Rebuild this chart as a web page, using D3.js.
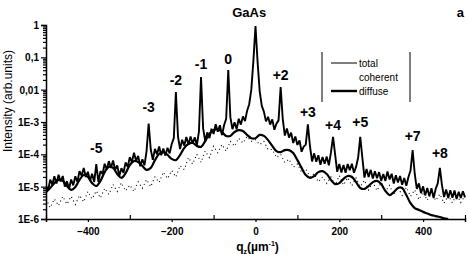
<!DOCTYPE html>
<html>
<head>
<meta charset="utf-8">
<script src="https://cdn.jsdelivr.net/npm/d3@7"></script>
<style>
  body { margin: 0; background: #fff; }
  svg { display: block; font-family: "Liberation Sans", Arial, sans-serif; }
</style>
</head>
<body>
<div id="chart"></div>
<script>
// q_z grid (µm^-1) for the total curve, step 5
const qTotal = [
  -500,-495,-490,-485,-480,-475,-470,-465,-460,-455,-450,-445,-440,-435,-430,-425,-420,-415,-410,-405,
  -400,-395,-390,-385,-380,-375,-370,-365,-360,-355,-350,-345,-340,-335,-330,-325,-320,-315,-310,-305,
  -300,-295,-290,-285,-280,-275,-270,-265,-260,-255,-250,-245,-240,-235,-230,-225,-220,-215,-210,-205,
  -200,-195,-190,-185,-180,-175,-170,-165,-160,-155,-150,-145,-140,-135,-130,-125,-120,-115,-110,-105,
  -100,-95,-90,-85,-80,-75,-70,-65,-60,-55,-50,-45,-40,-35,-30,-25,-20,-15,-10,-5,
  0,5,10,15,20,25,30,35,40,45,50,55,60,65,70,75,80,85,90,95,
  100,105,110,115,120,125,130,135,140,145,150,155,160,165,170,175,180,185,190,195,
  200,205,210,215,220,225,230,235,240,245,250,255,260,265,270,275,280,285,290,295,
  300,305,310,315,320,325,330,335,340,345,350,355,360,365,370,375,380,385,390,395,
  400,405,410,415,420,425,430,435,440,445,450,455,460,465,470,475,480,485,490,495,
  500
];
// log10 of total intensity
const totalLog = [
  -4.96,-5.12,-4.78,-4.94,-4.68,-4.9,-4.63,-4.84,-4.67,-5.0,
  -4.83,-5.07,-4.78,-4.96,-4.68,-4.85,-4.52,-4.66,-4.42,-4.7,
  -4.54,-4.82,-4.6,-4.86,-4.3,-4.85,-4.52,-4.61,-4.29,-4.47,
  -4.21,-4.42,-4.19,-4.48,-4.34,-4.67,-4.43,-4.57,-4.25,-4.39,
  -4.09,-4.24,-3.95,-4.2,-4.05,-4.37,-4.15,-4.34,-3.9,-3.05,
  -3.85,-4.17,-3.83,-4.0,-3.76,-4.03,-3.82,-4.04,-3.8,-3.97,
  -3.68,-3.5,-2.07,-3.45,-3.84,-3.55,-3.73,-3.46,-3.7,-3.45,
  -3.67,-3.47,-3.72,-3.3,-1.61,-3.2,-3.59,-3.32,-3.5,-3.21,
  -3.37,-3.07,-3.3,-3.1,-3.4,-3.1,-2.9,-1.39,-2.85,-3.22,
  -3.01,-3.22,-2.9,-3.08,-2.83,-2.97,-2.65,-2.45,-2.0,-1.1,
  -0.03,-1.15,-2.05,-2.5,-2.68,-2.98,-2.84,-3.08,-2.92,-3.24,
  -3.05,-2.95,-1.92,-2.9,-3.42,-3.2,-3.48,-3.33,-3.65,-3.45,
  -3.71,-3.57,-3.92,-3.76,-3.7,-3.07,-3.75,-4.22,-3.97,-4.23,
  -4.03,-4.32,-4.08,-4.29,-4.07,-4.34,-3.95,-3.46,-4.0,-4.54,
  -4.3,-4.56,-4.33,-4.57,-4.3,-4.49,-4.29,-4.57,-4.39,-4.1,
  -3.46,-4.1,-4.72,-4.45,-4.7,-4.48,-4.75,-4.52,-4.74,-4.55,
  -4.82,-4.61,-4.82,-4.53,-4.78,-4.6,-4.9,-4.65,-4.87,-4.67,
  -4.94,-4.73,-4.97,-4.7,-4.5,-3.87,-4.6,-5.07,-4.9,-5.2,
  -4.99,-5.27,-5.04,-5.3,-5.05,-5.35,-5.07,-4.9,-4.42,-4.95,
  -5.32,-5.09,-5.35,-5.11,-5.34,-5.12,-5.38,-5.16,-5.35,-5.14,
  -5.33
];

const qDiffuse = [
  -500,-490,-480,-470,-460,-450,-440,-430,-420,-410,-400,-390,-380,-370,-360,-350,-340,-330,-320,-310,
  -300,-290,-280,-270,-260,-250,-240,-230,-220,-210,-200,-190,-180,-170,-160,-150,-140,-130,-120,-110,
  -100,-90,-80,-70,-60,-50,-40,-30,-20,-10,0,10,20,30,40,50,60,70,80,90,
  100,110,120,130,140,150,160,170,180,190,200,210,220,230,240,250,260,270,280,290,
  300,310,320,330,340,350,360,370,380,390,400,410,420,430,440,450,460
];
const diffuseLog = [
  -5.17,-5.04,-4.89,-4.79,-4.82,-4.98,-5.10,-5.01,-4.79,-4.64,
  -4.70,-4.89,-4.98,-4.82,-4.55,-4.39,-4.42,-4.61,-4.73,-4.58,
  -4.33,-4.21,-4.24,-4.36,-4.48,-4.42,-4.18,-3.99,-3.93,-4.02,
  -4.14,-4.18,-4.02,-3.80,-3.68,-3.65,-3.74,-3.77,-3.59,-3.37,
  -3.25,-3.22,-3.31,-3.43,-3.43,-3.31,-3.25,-3.28,-3.40,-3.50,
  -3.50,-3.40,-3.43,-3.56,-3.74,-3.90,-3.93,-3.87,-3.87,-3.96,
  -4.18,-4.42,-4.64,-4.73,-4.67,-4.55,-4.52,-4.61,-4.79,-4.92,
  -4.89,-4.76,-4.67,-4.70,-4.86,-5.04,-5.07,-4.98,-4.86,-4.82,
  -4.92,-5.13,-5.26,-5.17,-5.04,-5.04,-5.26,-5.51,-5.66,-5.72,
  -5.78,-5.83,-5.88,-5.91,-5.94,-5.98,-6.0
];

const qCoherent = [
  -500,-490,-480,-470,-460,-450,-440,-430,-420,-410,-400,-390,-380,-370,-360,-350,-340,-330,-320,-310,
  -300,-290,-280,-270,-260,-250,-240,-230,-220,-210,-200,-190,-180,-170,-160,-150,-140,-130,-120,-110,
  -100,-90,-80,-70,-60,-50,-40,-30,-20,-10,0,10,20,30,40,50,60,70,80,90,
  100,110,120,130,140,150,160,170,180,190,200,210,220,230,240,250,260,270,280,290,
  300,310,320,330,340,350,360,370,380,390,400,410,420,430,440,450,460,470,480,490,500
];
const coherentLog = [
  -5.38,-5.65,-5.38,-5.59,-5.3,-5.54,-5.3,-5.55,-5.27,-5.47,
  -5.15,-5.38,-5.13,-5.35,-5.05,-5.24,-4.93,-5.15,-4.88,-5.13,
  -4.95,-5.15,-4.85,-5.05,-4.78,-5.0,-4.7,-4.87,-4.55,-4.75,
  -4.5,-4.7,-4.35,-4.47,-4.1,-4.3,-4.0,-4.25,-3.9,-4.1,
  -3.75,-3.95,-3.7,-3.9,-3.6,-3.75,-3.5,-3.65,-3.45,-3.6,
  -3.55,-3.7,-3.6,-3.85,-3.85,-4.1,-4.0,-4.25,-4.15,-4.4,
  -4.3,-4.55,-4.45,-4.7,-4.6,-4.85,-4.7,-4.9,-4.7,-4.95,
  -4.66,-4.95,-4.72,-4.97,-4.73,-5.0,-4.8,-5.1,-4.87,-5.12,
  -4.87,-5.15,-4.96,-5.25,-5.02,-5.27,-5.02,-5.3,-5.1,-5.4,
  -5.17,-5.42,-5.17,-5.43,-5.23,-5.51,-5.27,-5.5,-5.23,-5.49,
  -5.28
];

// satellite peak labels: order, q position, log10 height of the label
const peakNames = ["-5", "-3", "-2", "-1", "0", "+2", "+3", "+4", "+5", "+7", "+8"];
const peakQ = [-380, -255, -190, -130, -65, 60, 125, 185, 250, 375, 440];
const peakLabelLog = [-3.95, -2.7, -1.85, -1.35, -1.2, -1.7, -2.85, -3.25, -3.15, -3.6, -4.1];

const xTicks = [-400, -200, 0, 200, 400];
const xMinorTicks = [-500, -300, -100, 100, 300, 500];
const yTicks = [1, 0.1, 0.01, 1e-3, 1e-4, 1e-5, 1e-6];
const yTickLabels = ["1", "0,1", "0,01", "1E-3", "1E-4", "1E-5", "1E-6"];

const legendItems = ["total", "coherent", "diffuse"];

function drawChart(container) {
  const width = 468;
  const height = 254;
  const margin = { top: 25, right: 3, bottom: 35, left: 46 };

  const x = d3.scaleLinear()
    .domain([-500, 500])
    .range([margin.left, width - margin.right]);
  const y = d3.scaleLog()
    .domain([1e-6, 1])
    .range([height - margin.bottom, margin.top]);

  const svg = container.append("svg")
    .attr("width", width)
    .attr("height", height)
    .attr("viewBox", [0, 0, width, height]);

  svg.append("clipPath")
    .attr("id", "plot-clip")
    .append("rect")
    .attr("x", margin.left)
    .attr("y", 0)
    .attr("width", width - margin.left - margin.right + 1)
    .attr("height", height - margin.bottom);

  const series = (qs, logs) => qs.map((q, i) => ({ q, v: Math.pow(10, logs[i]) }));

  const line = d3.line()
    .x((d) => x(d.q))
    .y((d) => y(d.v));

  const plot = svg.append("g").attr("clip-path", "url(#plot-clip)");

  plot.append("path")
    .datum(series(qCoherent, coherentLog))
    .attr("fill", "none")
    .attr("stroke", "#000")
    .attr("stroke-width", 1.1)
    .attr("stroke-dasharray", "1,3")
    .attr("d", line);

  plot.append("path")
    .datum(series(qTotal, totalLog))
    .attr("fill", "none")
    .attr("stroke", "#000")
    .attr("stroke-width", 1.9)
    .attr("stroke-linejoin", "bevel")
    .attr("d", line);

  plot.append("path")
    .datum(series(qDiffuse, diffuseLog))
    .attr("fill", "none")
    .attr("stroke", "#000")
    .attr("stroke-width", 2.2)
    .attr("d", line.curve(d3.curveCatmullRom));

  // axes
  const yAxis = svg.append("g")
    .attr("transform", `translate(${margin.left},0)`)
    .call(d3.axisLeft(y)
      .tickValues(yTicks)
      .tickFormat((d, i) => yTickLabels[i])
      .tickSize(5)
      .tickPadding(2));
  svg.append("g")
    .attr("transform", `translate(${margin.left},0)`)
    .call(d3.axisLeft(y)
      .tickValues(y.ticks().filter((d) => !yTicks.includes(d)))
      .tickFormat("")
      .tickSize(3))
    .call((g) => g.select(".domain").remove());

  svg.append("g")
    .attr("transform", `translate(0,${height - margin.bottom})`)
    .call(d3.axisBottom(x)
      .tickValues(xTicks)
      .tickFormat(d3.format("d"))
      .tickSize(3)
      .tickPadding(6));
  svg.append("g")
    .attr("transform", `translate(0,${height - margin.bottom})`)
    .call(d3.axisBottom(x)
      .tickValues(xMinorTicks)
      .tickFormat("")
      .tickSize(-4))
    .call((g) => g.select(".domain").remove());

  svg.selectAll(".domain").attr("stroke-width", 1.5);
  svg.selectAll(".tick line").attr("stroke-width", 1.2);
  svg.selectAll(".tick text")
    .attr("font-family", "'Liberation Sans', Arial, sans-serif")
    .attr("font-size", 10)
    .attr("font-weight", "bold")
    .attr("fill", "#000");
  yAxis.selectAll(".tick text").attr("dy", "0.35em");

  // axis titles
  svg.append("text")
    .attr("transform", "translate(12,101) rotate(-90)")
    .attr("text-anchor", "middle")
    .attr("font-size", 12)
    .text("Intensity (arb.units)");

  const xTitle = svg.append("text")
    .attr("x", x(0) + 2)
    .attr("y", height - 3)
    .attr("text-anchor", "middle")
    .attr("font-size", 12)
    .attr("font-weight", "bold");
  xTitle.append("tspan").text("q");
  xTitle.append("tspan").attr("font-size", 7).attr("dy", 3).text("z");
  xTitle.append("tspan").attr("dy", -3).text("(\u00b5m");
  xTitle.append("tspan").attr("font-size", 7).attr("dy", -5).text("-1");
  xTitle.append("tspan").attr("dy", 5).text(")");

  svg.append("text")
    .attr("x", x(-15))
    .attr("y", 17)
    .attr("text-anchor", "middle")
    .attr("font-size", 13)
    .attr("font-weight", "bold")
    .text("GaAs");

  svg.append("text")
    .attr("x", 464)
    .attr("y", 17)
    .attr("text-anchor", "end")
    .attr("font-size", 13)
    .attr("font-weight", "bold")
    .text("a");

  svg.append("g")
    .attr("font-size", 14)
    .attr("font-weight", "bold")
    .attr("text-anchor", "middle")
    .selectAll("text")
    .data(peakNames)
    .join("text")
    .attr("x", (d, i) => x(peakQ[i]))
    .attr("y", (d, i) => y(Math.pow(10, peakLabelLog[i])))
    .text((d) => d);

  // legend
  const legend = svg.append("g").attr("transform", "translate(322,52)");
  legend.append("line")
    .attr("x1", 0).attr("x2", 0).attr("y1", 0).attr("y2", 50)
    .attr("stroke", "#000");
  legend.append("line")
    .attr("x1", 88).attr("x2", 88).attr("y1", 0).attr("y2", 50)
    .attr("stroke", "#000");
  const legendWidths = [1, 0, 2.4];
  const row = legend.selectAll("g.row")
    .data(legendItems)
    .join("g")
    .attr("class", "row")
    .attr("transform", (d, i) => `translate(0,${11 + i * 14})`);
  row.append("line")
    .attr("x1", 9).attr("x2", 35)
    .attr("stroke", "#000")
    .attr("stroke-width", (d, i) => legendWidths[i]);
  row.append("text")
    .attr("x", 37)
    .attr("dy", "0.35em")
    .attr("font-size", 10)
    .text((d) => d);
}

drawChart(d3.select("#chart"));
</script>
</body>
</html>
